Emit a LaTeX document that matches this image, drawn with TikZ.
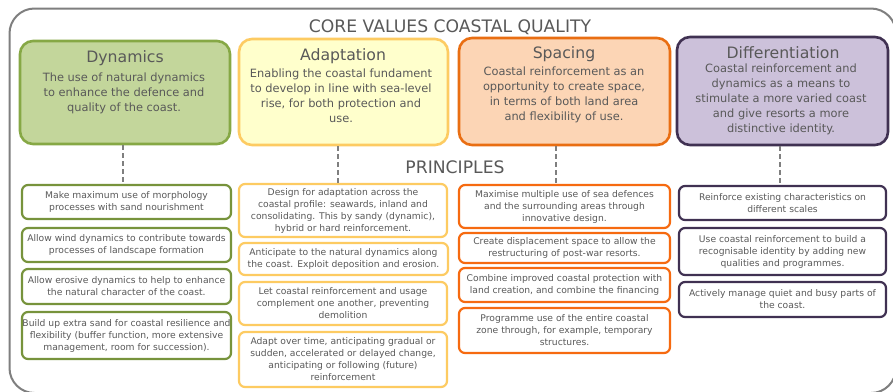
\documentclass[tikz,border=0pt]{standalone}
\usepackage{fontspec}
\setmainfont{DejaVu Sans}
\usetikzlibrary{calc}
\definecolor{txt}{HTML}{595959}
\definecolor{framec}{HTML}{7F7F7F}
\definecolor{gfill}{HTML}{C3D69B}
\definecolor{gline}{HTML}{86A845}
\definecolor{gsmall}{HTML}{77933C}
\definecolor{yfill}{HTML}{FFFFCC}
\definecolor{yline}{HTML}{FDCB62}
\definecolor{ofill}{HTML}{FCD5B5}
\definecolor{oline}{HTML}{E96E12}
\definecolor{osmall}{HTML}{F66A10}
\definecolor{pfill}{HTML}{CCC1DA}
\definecolor{pline}{HTML}{403152}
\tikzset{
  frame/.style={draw=framec, line width=2pt, rounded corners=25pt},
  topbox/.style={line width=2.6pt, rounded corners=13pt, inner sep=0pt},
  sbox/.style={draw=#1, line width=2.2pt, rounded corners=6pt, fill=white,
    inner sep=0pt, align=center, text=txt, font=\fontsize{9.2}{12}\selectfont},
  ttl/.style={text=txt, inner sep=0pt, anchor=base, font=\fontsize{15.7}{20}\selectfont},
  body/.style={text=txt, inner sep=0pt, align=center, font=\fontsize{11.4}{15}\selectfont},
  heading/.style={text=txt, inner sep=0pt, anchor=base, font=\fontsize{17.2}{20}\selectfont},
  conn/.style={draw=framec, line width=2pt, dash pattern=on 5pt off 3pt}
}
\begin{document}
\begin{tikzpicture}[x=1pt,y=-1pt]
\useasboundingbox (0,0) rectangle (893,391);
\clip (0,0) rectangle (893,391);
\fill[white] (0,0) rectangle (893,391);
\draw[frame] (9.5,8.5) rectangle (896,393);

\node[heading] (core) at (450,32) {CORE VALUES COASTAL QUALITY};
\node[heading] (princ) at (455,173) {PRINCIPLES};

% top boxes
\node[topbox, fill=gfill, draw=gline, minimum width=210pt, minimum height=103pt] (dyn) at (125,92.5) {};
\node[topbox, fill=yfill, draw=yline, minimum width=209pt, minimum height=106pt] (ada) at (343.5,92) {};
\node[topbox, fill=ofill, draw=oline, minimum width=211pt, minimum height=107pt] (spa) at (564.5,91.5) {};
\node[topbox, fill=pfill, draw=pline, minimum width=211pt, minimum height=108pt] (dif) at (782.5,91) {};

\node[ttl] (dynT) at (125,62) {Dynamics};
\node[ttl] (adaT) at (343,60) {Adaptation};
\node[ttl] (spaT) at (564,58) {Spacing};
\node[ttl] (difT) at (783,58) {Differentiation};

\node[body] (dynB) at (124,93) {The use of natural dynamics\\to enhance the defence and\\quality of the coast.};
\node[body] (adaB) at (341,96) {Enabling the coastal fundament\\to develop in line with sea-level\\rise, for both protection and\\use.};
\node[body] (spaB) at (564,95) {Coastal reinforcement as an\\opportunity to create space,\\in terms of both land area\\and flexibility of use.};
\node[body] (difB) at (781,99.5) {Coastal reinforcement and\\dynamics as a means to\\stimulate a more varied coast\\and give resorts a more\\distinctive identity.};

% green column
\node[sbox=gsmall, minimum width=209pt, minimum height=34pt] (g1) at (126.5,202) {Make maximum use of morphology\\processes with sand nourishment};
\node[sbox=gsmall, minimum width=209pt, minimum height=34pt] (g2) at (126.5,245) {Allow wind dynamics to contribute towards\\processes of landscape formation};
\node[sbox=gsmall, minimum width=209pt, minimum height=35pt] (g3) at (126.5,286.5) {Allow erosive dynamics to help to enhance\\the natural character of the coast.};
\node[sbox=gsmall, minimum width=209pt, minimum height=47pt] (g4) at (126.5,335.5) {Build up extra sand for coastal resilience and\\flexibility (buffer function, more extensive\\management, room for succession).};

% yellow column
\node[sbox=yline, minimum width=208pt, minimum height=53pt] (y1) at (343,210.5) {Design for adaptation across the\\coastal profile: seawards, inland and\\consolidating. This by sandy (dynamic),\\hybrid or hard reinforcement.};
\node[sbox=yline, minimum width=209pt, minimum height=32pt] (y2) at (343.5,259) {Anticipate to the natural dynamics along\\the coast. Exploit deposition and erosion.};
\node[sbox=yline, minimum width=208pt, minimum height=43pt] (y3) at (343,303.5) {Let coastal reinforcement and usage\\complement one another, preventing\\demolition};
\node[sbox=yline, minimum width=208pt, minimum height=55pt] (y4) at (343,359.5) {Adapt over time, anticipating gradual or\\sudden, accelerated or delayed change,\\anticipating or following (future)\\reinforcement};

% orange column
\node[sbox=osmall, minimum width=211pt, minimum height=43pt] (o1) at (564.5,206.5) {Maximise multiple use of sea defences\\and the surrounding areas through\\innovative design.};
\node[sbox=osmall, minimum width=211pt, minimum height=30pt] (o2) at (564.5,248) {Create displacement space to allow the\\restructuring of post-war resorts.};
\node[sbox=osmall, minimum width=211pt, minimum height=34pt] (o3) at (564.5,285) {Combine improved coastal protection with\\land creation, and combine the financing};
\node[sbox=osmall, minimum width=211pt, minimum height=45pt] (o4) at (564.5,330.5) {Programme use of the entire coastal\\zone through, for example, temporary\\structures.};

% purple column
\node[sbox=pline, minimum width=207pt, minimum height=34pt] (p1) at (782.5,203) {Reinforce existing characteristics on\\different scales};
\node[sbox=pline, minimum width=207pt, minimum height=47pt] (p2) at (782.5,251.5) {Use coastal reinforcement to build a\\recognisable identity by adding new\\qualities and programmes.};
\node[sbox=pline, minimum width=207pt, minimum height=35pt] (p3) at (782.5,299.5) {Actively manage quiet and busy parts of\\the coast.};

% dashed connectors
\draw[conn] ([xshift=-2pt]dyn.south) -- ([xshift=-2pt]dyn.south |- g1.north);
\draw[conn] ([xshift=-5.5pt]ada.south) -- ([xshift=-5.5pt]ada.south |- y1.north);
\draw[conn] ([xshift=-8.5pt]spa.south) -- ([xshift=-8.5pt]spa.south |- o1.north);
\draw[conn] ([xshift=-2.5pt]dif.south) -- ([xshift=-2.5pt]dif.south |- p1.north);
\end{tikzpicture}
\end{document}
